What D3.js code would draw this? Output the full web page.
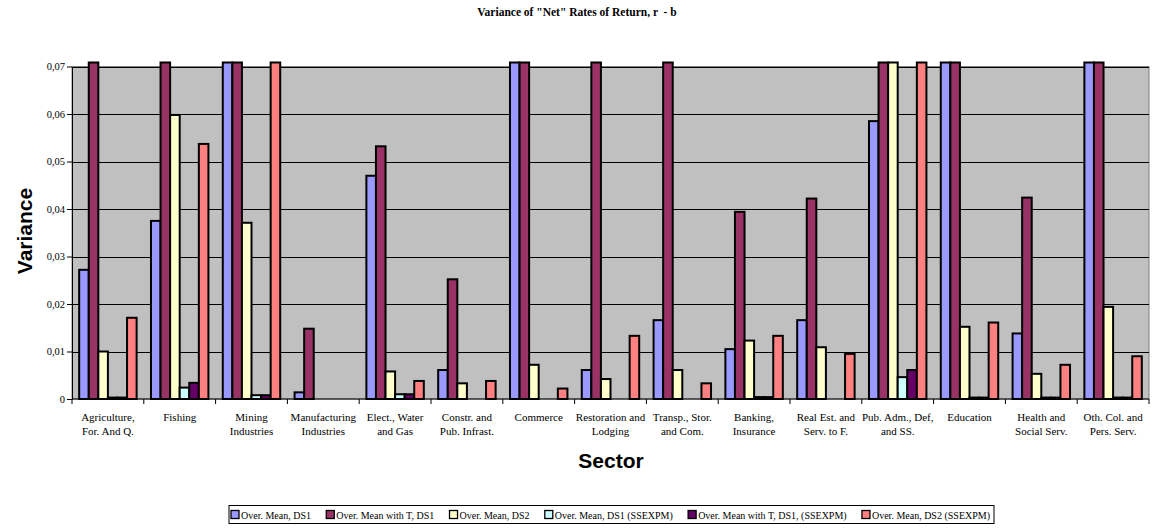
<!DOCTYPE html>
<html>
<head>
<meta charset="utf-8">
<script src="https://cdn.jsdelivr.net/npm/d3@7"></script>
<style>
  html, body { margin: 0; padding: 0; background: #fff; }
  svg { display: block; }
</style>
</head>
<body>
<svg id="chart" width="1153" height="528"></svg>
<script>
// ---------------- DATA ----------------
const categories = [
  "Agriculture,|For. And Q.", "Fishing", "Mining|Industries", "Manufacturing|Industries",
  "Elect., Water|and Gas", "Constr. and|Pub. Infrast.", "Commerce", "Restoration and|Lodging",
  "Transp., Stor.|and Com.", "Banking,|Insurance", "Real Est. and|Serv. to F.",
  "Pub. Adm., Def,|and SS.", "Education", "Health and|Social Serv.", "Oth. Col. and|Pers. Serv."
];
const seriesNames = [
  "Over. Mean, DS1", "Over. Mean with T, DS1", "Over. Mean, DS2",
  "Over. Mean, DS1 (SSEXPM)", "Over. Mean with T, DS1, (SSEXPM)", "Over. Mean, DS2 (SSEXPM)"
];
const seriesColors = ["#9999FF", "#993366", "#FFFFCC", "#CCFFFF", "#660066", "#FF8080"];
// values above 0.07 run off the top of the chart (estimated)
const overMeanDS1       = [0.0272, 0.0375, 0.110, 0.0014, 0.0470, 0.0061, 0.150, 0.0061, 0.0166, 0.0105, 0.0166, 0.0585, 0.095, 0.0138, 0.120];
const overMeanTDS1      = [0.140, 0.160, 0.130, 0.0148, 0.0532, 0.0252, 0.170, 0.090, 0.100, 0.0394, 0.0422, 0.110, 0.105, 0.0424, 0.125];
const overMeanDS2       = [0.0100, 0.0598, 0.0371, null, 0.0058, 0.0033, 0.0072, 0.0042, 0.0061, 0.0123, 0.0109, 0.085, 0.0152, 0.0053, 0.0194];
const overMeanDS1SS     = [0.0003, 0.0024, 0.0008, null, 0.0010, 0, 0, 0, 0, 0.0004, 0, 0.0046, 0.0003, 0.0003, 0.0003];
const overMeanTDS1SS    = [0.0003, 0.0034, 0.0008, null, 0.0010, 0, 0, 0, 0, 0.0004, 0, 0.0061, 0.0003, 0.0003, 0.0003];
const overMeanDS2SS     = [0.0171, 0.0537, 0.095, null, 0.0038, 0.0038, 0.0022, 0.0133, 0.0033, 0.0133, 0.0095, 0.080, 0.0161, 0.0072, 0.0090];
const seriesValues = [overMeanDS1, overMeanTDS1, overMeanDS2, overMeanDS1SS, overMeanTDS1SS, overMeanDS2SS];
const yTicks = [0, 0.01, 0.02, 0.03, 0.04, 0.05, 0.06, 0.07];
const titleText = 'Variance of "Net" Rates of Return, r  - b';
const yTitle = "Variance";
const xTitle = "Sector";

// ---------------- LAYOUT ----------------
const svg = d3.select("#chart");
const plot = { left: 72, right: 1149, top: 66.5, bottom: 399 };
const serif = "'Liberation Serif', 'Times New Roman', serif";
const sans = "'Liberation Sans', Arial, sans-serif";

const x0 = d3.scaleBand().domain(categories).range([plot.left, plot.right]).padding(0);
const x1 = d3.scaleBand().domain(d3.range(seriesNames.length))
  .range([0, x0.bandwidth()]).paddingInner(0).paddingOuter(0.75);
const y = d3.scaleLinear().domain([0, 0.07]).range([plot.bottom, plot.top]);

// plot background
svg.append("rect")
  .attr("x", plot.left).attr("y", plot.top)
  .attr("width", plot.right - plot.left).attr("height", plot.bottom - plot.top)
  .attr("fill", "#C0C0C0").attr("stroke", "#808080").attr("stroke-width", 1);

// gridlines
svg.append("g").selectAll("line").data(yTicks.filter(d => d > 0)).join("line")
  .attr("x1", plot.left).attr("x2", plot.right)
  .attr("y1", d => Math.round(y(d)) + 0.5).attr("y2", d => Math.round(y(d)) + 0.5)
  .attr("stroke", "#000").attr("stroke-width", 1);

// bars
const maxTop = y(0.07) - 4;
const groups = svg.append("g").selectAll("g").data(categories).join("g")
  .attr("transform", d => `translate(${x0(d)},0)`);
groups.selectAll("rect")
  .data((c, ci) => seriesValues.map((vals, si) => ({ si, v: vals[ci] })).filter(d => d.v !== null))
  .join("rect")
  .attr("x", d => x1(d.si))
  .attr("width", x1.bandwidth())
  .attr("y", d => Math.max(y(d.v), maxTop))
  .attr("height", d => plot.bottom - Math.max(y(d.v), maxTop))
  .attr("fill", d => seriesColors[d.si])
  .attr("stroke", "#000").attr("stroke-width", 2);

// y axis
const yAxis = d3.axisLeft(y).tickValues(yTicks).tickSize(5).tickSizeOuter(0)
  .tickFormat(d => d === 0 ? "0" : d3.format(".2f")(d).replace(".", ","));
const gy = svg.append("g").attr("transform", `translate(${plot.left},0)`).call(yAxis);
gy.select(".domain").attr("stroke", "#000").attr("stroke-width", 1);
gy.selectAll(".tick line").attr("stroke", "#000");
gy.selectAll(".tick text").attr("font-family", serif).attr("font-size", 10.5).attr("fill", "#000").attr("x", -7);

// x axis
const gx = svg.append("g").attr("transform", `translate(0,${plot.bottom})`);
gx.append("line").attr("x1", plot.left).attr("x2", plot.right).attr("stroke", "#000").attr("stroke-width", 1.2);
const boundaries = categories.map(c => x0(c)).concat([plot.right]);
gx.selectAll("line.tk").data(boundaries).join("line").attr("class", "tk")
  .attr("x1", d => d).attr("x2", d => d).attr("y1", 0).attr("y2", 5)
  .attr("stroke", "#000");
const labels = gx.selectAll("text.cat").data(categories).join("text").attr("class", "cat")
  .attr("x", d => x0(d) + x0.bandwidth() / 2)
  .attr("y", 22)
  .attr("text-anchor", "middle")
  .attr("font-family", serif).attr("font-size", 11).attr("fill", "#000");
labels.each(function (d) {
  const parts = d.split("|");
  d3.select(this).selectAll("tspan").data(parts).join("tspan")
    .attr("x", x0(d) + x0.bandwidth() / 2)
    .attr("dy", (p, i) => i === 0 ? 0 : 14)
    .text(p => p);
});

// titles
svg.append("text").attr("x", 577).attr("y", 16).attr("text-anchor", "middle")
  .style("white-space", "pre")
  .attr("font-family", serif).attr("font-weight", "bold").attr("font-size", 11.5).text(titleText);
svg.append("text").attr("transform", "translate(32,231) rotate(-90)").attr("text-anchor", "middle")
  .attr("font-family", sans).attr("font-weight", "bold").attr("font-size", 21).text(yTitle);
svg.append("text").attr("x", 611).attr("y", 468).attr("text-anchor", "middle")
  .attr("font-family", sans).attr("font-weight", "bold").attr("font-size", 21).text(xTitle);

// legend
const legend = { left: 229, right: 994, top: 505.5, height: 18 };
const lg = svg.append("g");
lg.append("rect").attr("x", legend.left).attr("y", legend.top)
  .attr("width", legend.right - legend.left).attr("height", legend.height)
  .attr("fill", "#fff").attr("stroke", "#000").attr("stroke-width", 1);
const items = lg.selectAll("g").data(seriesNames).join("g");
items.append("text").attr("font-family", serif).attr("font-size", 10).attr("fill", "#000")
  .attr("y", legend.top + 13).text(d => d);
const widths = [];
items.select("text").each(function () { widths.push(this.getComputedTextLength()); });
const sq = 8, sqGap = 2;
const totalItems = d3.sum(widths) + seriesNames.length * (sq + sqGap);
const inner = (legend.right - legend.left) - 6;
const gap = (inner - totalItems) / (seriesNames.length - 1);
let cx = legend.left + 2;
items.each(function (d, i) {
  const g = d3.select(this);
  g.insert("rect", "text").attr("x", cx).attr("y", legend.top + 5).attr("width", sq).attr("height", sq)
    .attr("fill", seriesColors[i]).attr("stroke", "#000").attr("stroke-width", 1.3);
  g.select("text").attr("x", cx + sq + sqGap);
  cx += sq + sqGap + widths[i] + gap;
});
</script>
</body>
</html>
